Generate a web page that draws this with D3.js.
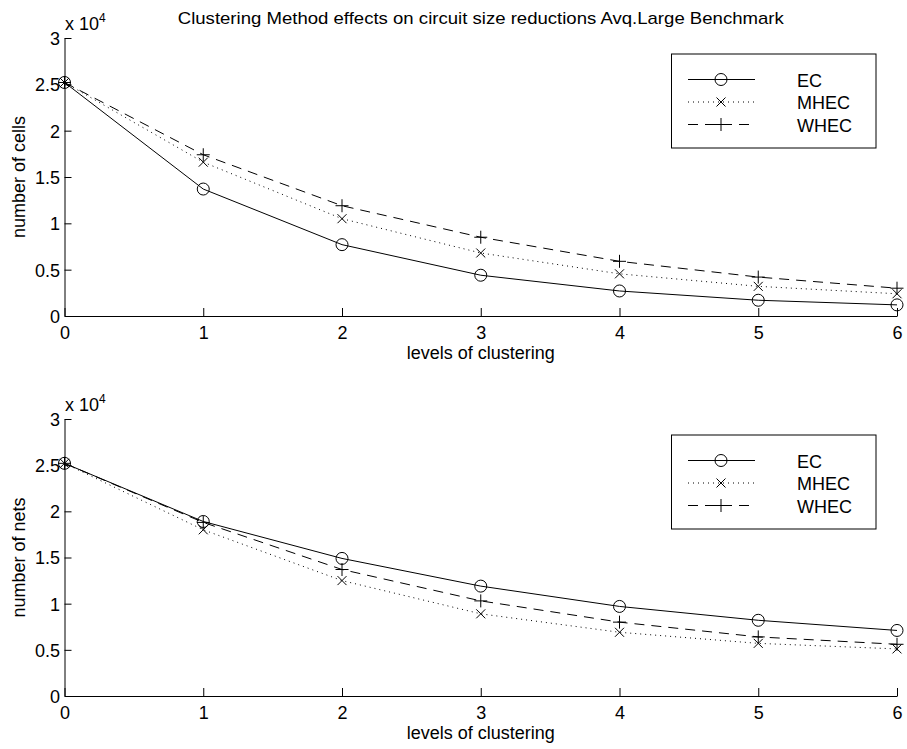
<!DOCTYPE html>
<html>
<head>
<meta charset="utf-8">
<script src="https://cdn.jsdelivr.net/npm/d3@7"></script>
<style>
  body { margin: 0; background: #fff; }
  text { font-family: "Liberation Sans", Arial, sans-serif; fill: #000; }
</style>
</head>
<body>
<div id="chart"></div>
<script>
const width = 907;
const height = 749;

// clustering levels
const levels = [0, 1, 2, 3, 4, 5, 6];

// number of cells (top panel)
const cellsEC   = [25200, 13700, 7700, 4400, 2700, 1700, 1200];
const cellsMHEC = [25200, 16600, 10500, 6800, 4550, 3200, 2400];
const cellsWHEC = [25200, 17400, 11900, 8500, 5900, 4200, 3000];

// number of nets (bottom panel)
const netsEC   = [25200, 18900, 14900, 11900, 9700, 8200, 7100];
const netsMHEC = [25200, 18000, 12500, 8900, 6900, 5700, 5100];
const netsWHEC = [25200, 18800, 13700, 10300, 8000, 6400, 5600];

const seriesNames = ["EC", "MHEC", "WHEC"];
const yTicks = [0, 5000, 10000, 15000, 20000, 25000, 30000];
const title = "Clustering Method effects on circuit size reductions Avq.Large Benchmark";

const styles = {
  EC:   { dash: null,    marker: "circle" },
  MHEC: { dash: "1,4",   marker: "cross" },
  WHEC: { dash: "10,7",  marker: "plus" }
};

const svg = d3.select("#chart").append("svg")
  .attr("width", width)
  .attr("height", height);

svg.append("rect").attr("width", width).attr("height", height).attr("fill", "#fff");

const x = d3.scaleLinear().domain([0, 6]).range([64.5, 897]);

function drawMarker(g, type, cx, cy) {
  if (type === "circle") {
    g.append("circle").attr("cx", cx).attr("cy", cy).attr("r", 6)
      .attr("fill", "none").attr("stroke", "#000").attr("stroke-width", 1);
  } else if (type === "cross") {
    const s = 4.5;
    g.append("path")
      .attr("d", `M${cx - s},${cy - s}L${cx + s},${cy + s}M${cx - s},${cy + s}L${cx + s},${cy - s}`)
      .attr("stroke", "#000").attr("stroke-width", 1).attr("fill", "none");
  } else {
    const s = 6.5;
    g.append("path")
      .attr("d", `M${cx - s},${cy}L${cx + s},${cy}M${cx},${cy - s}L${cx},${cy + s}`)
      .attr("stroke", "#000").attr("stroke-width", 1).attr("fill", "none");
  }
}

function panel(top, bottom, data, ylabel) {
  const y = d3.scaleLinear().domain([0, 30000]).range([bottom, top]);
  const g = svg.append("g");

  // y axis, ticks pointing inward
  const yAxis = g.append("g")
    .attr("transform", `translate(${x(0)},0)`)
    .call(d3.axisLeft(y).tickValues(yTicks).tickFormat(d => d / 1e4)
      .tickSizeInner(-7).tickSizeOuter(0).tickPadding(4.5));
  yAxis.selectAll("text").style("font-size", "18px").attr("dy", "0.36em");

  const xAxis = g.append("g")
    .attr("transform", `translate(0,${bottom})`)
    .call(d3.axisBottom(x).tickValues(levels).tickFormat(d3.format("d"))
      .tickSizeInner(-8).tickSizeOuter(0).tickPadding(10.5));
  xAxis.selectAll("text").style("font-size", "18px");

  [yAxis, xAxis].forEach(a => {
    a.selectAll("path, line").attr("stroke", "#000").attr("stroke-width", 1);
    a.selectAll("text").attr("fill", "#000").style("font-family", '"Liberation Sans", Arial, sans-serif');
  });

  // exponent label
  const ex = g.append("text").attr("x", 65).attr("y", top - 8).style("font-size", "18px");
  ex.append("tspan").text("x 10");
  ex.append("tspan").attr("dy", -8).style("font-size", "12px").text("4");

  g.append("text")
    .attr("transform", `translate(25,${(top + bottom) / 2}) rotate(-90)`)
    .attr("text-anchor", "middle")
    .style("font-size", "18px")
    .text(ylabel);

  g.append("text")
    .attr("x", (x(0) + x(6)) / 2)
    .attr("y", bottom + 43)
    .attr("text-anchor", "middle")
    .style("font-size", "18px")
    .text("levels of clustering");

  const line = d3.line().x((d, i) => x(levels[i])).y(d => y(d));

  seriesNames.forEach((name, k) => {
    const vals = data[k];
    g.append("path")
      .datum(vals)
      .attr("d", line)
      .attr("fill", "none")
      .attr("stroke", "#000")
      .attr("stroke-width", 1)
      .attr("stroke-dasharray", styles[name].dash);
    vals.forEach((v, i) => drawMarker(g, styles[name].marker, x(levels[i]), y(v)));
  });

  // legend
  const lg = g.append("g");
  lg.append("rect")
    .attr("x", 671.5).attr("y", top + 16)
    .attr("width", 204.5).attr("height", 94)
    .attr("fill", "#fff").attr("stroke", "#000").attr("stroke-width", 1);
  seriesNames.forEach((name, k) => {
    const base = top + 48.5 + k * 22.5;
    const ly = base - 7;
    lg.append("line")
      .attr("x1", 688).attr("x2", 755).attr("y1", ly).attr("y2", ly)
      .attr("stroke", "#000").attr("stroke-width", 1)
      .attr("stroke-dasharray", styles[name].dash);
    drawMarker(lg, styles[name].marker, 721, ly);
    lg.append("text").attr("x", 797).attr("y", base)
      .style("font-size", "18px").text(name);
  });
}

svg.append("text")
  .attr("x", (x(0) + x(6)) / 2)
  .attr("y", 24)
  .attr("text-anchor", "middle")
  .attr("textLength", 606)
  .attr("lengthAdjust", "spacingAndGlyphs")
  .style("font-size", "17px")
  .text(title);

panel(38, 316, [cellsEC, cellsMHEC, cellsWHEC], "number of cells");
panel(419, 696, [netsEC, netsMHEC, netsWHEC], "number of nets");
</script>
</body>
</html>
